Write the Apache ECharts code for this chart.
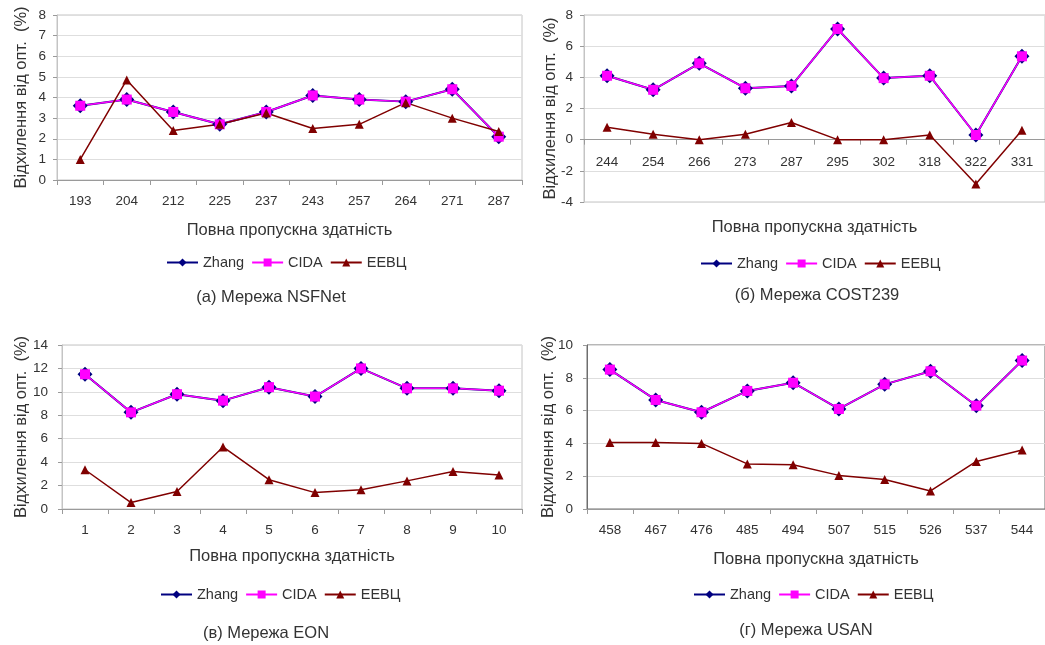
<!DOCTYPE html>
<html>
<head>
<meta charset="utf-8">
<script src="https://cdn.jsdelivr.net/npm/echarts@6/dist/echarts.min.js"></script>
<style>
  html, body { margin: 0; padding: 0; background: #ffffff; }
  #chart { width: 1045px; height: 645px; }
</style>
</head>
<body>
<div id="chart"></div>
<script>
// Total throughput categories of each network
const nsfnetCats  = ['193', '204', '212', '225', '237', '243', '257', '264', '271', '287'];
const cost239Cats = ['244', '254', '266', '273', '287', '295', '302', '318', '322', '331'];
const eonCats     = ['1', '2', '3', '4', '5', '6', '7', '8', '9', '10'];
const usanCats    = ['458', '467', '476', '485', '494', '507', '515', '526', '537', '544'];

// Deviation from the optimum, %
const nsfnetZhang = [3.6, 3.9, 3.3, 2.7, 3.3, 4.1, 3.9, 3.8, 4.4, 2.1];
const nsfnetCida  = [3.6, 3.9, 3.3, 2.7, 3.3, 4.1, 3.9, 3.8, 4.4, 2.1];
const nsfnetEevc  = [1.0, 4.85, 2.4, 2.7, 3.25, 2.5, 2.7, 3.75, 3.0, 2.35];

const cost239Zhang = [4.1, 3.2, 4.9, 3.3, 3.45, 7.1, 3.95, 4.1, 0.3, 5.35];
const cost239Cida  = [4.1, 3.2, 4.9, 3.3, 3.45, 7.1, 3.95, 4.1, 0.3, 5.35];
const cost239Eevc  = [0.8, 0.35, 0.0, 0.35, 1.1, 0.0, 0.0, 0.3, -2.85, 0.6];

const eonZhang = [11.5, 8.25, 9.8, 9.25, 10.4, 9.6, 12.0, 10.3, 10.3, 10.1];
const eonCida  = [11.5, 8.25, 9.8, 9.25, 10.4, 9.6, 12.0, 10.3, 10.3, 10.1];
const eonEevc  = [3.35, 0.55, 1.5, 5.3, 2.5, 1.4, 1.65, 2.4, 3.2, 2.9];

const usanZhang = [8.5, 6.65, 5.9, 7.2, 7.7, 6.1, 7.6, 8.4, 6.3, 9.05];
const usanCida  = [8.5, 6.65, 5.9, 7.2, 7.7, 6.1, 7.6, 8.4, 6.3, 9.05];
const usanEevc  = [4.05, 4.05, 4.0, 2.75, 2.7, 2.05, 1.8, 1.1, 2.9, 3.6];

const seriesNames = ['Zhang', 'CIDA', 'ЕЕВЦ'];
const xTitle = 'Повна пропускна здатність';
const yTitle = 'Відхилення від опт.  (%)';

const FONT = '"Liberation Sans", Arial, sans-serif';
const TEXT = '#333333';
const AXIS_GREY = '#9a9a9a';

// Layout of the four sub-charts
const panels = [
  { cats: nsfnetCats, zhang: nsfnetZhang, cida: nsfnetCida, eevc: nsfnetEevc,
    caption: '(а) Мережа NSFNet',
    grid: { left: 57, top: 15, width: 465, height: 165 },
    y: { min: 0, max: 8, interval: 1 },
    yMargin: 11, yGap: 27, xGap: 42,
    legend: { left: 166, top: 255 }, cap: [271, 297], border: '#c4c4c4' },
  { cats: cost239Cats, zhang: cost239Zhang, cida: cost239Cida, eevc: cost239Eevc,
    caption: '(б) Мережа COST239',
    grid: { left: 584, top: 15, width: 461, height: 187 },
    y: { min: -4, max: 8, interval: 2 },
    yMargin: 11, yGap: 25, xGap: 17, labelsAboveBottom: -47,
    legend: { left: 700, top: 256 }, cap: [817, 295], border: '#c4c4c4' },
  { cats: eonCats, zhang: eonZhang, cida: eonCida, eevc: eonEevc,
    caption: '(в) Мережа EON',
    grid: { left: 62, top: 345, width: 460, height: 164 },
    y: { min: 0, max: 14, interval: 2 },
    yMargin: 14, yGap: 32, xGap: 39,
    legend: { left: 160, top: 587 }, cap: [266, 633], border: '#c4c4c4' },
  { cats: usanCats, zhang: usanZhang, cida: usanCida, eevc: usanEevc,
    caption: '(г) Мережа USAN',
    grid: { left: 587, top: 345, width: 458, height: 164 },
    y: { min: 0, max: 10, interval: 2 },
    yMargin: 14, yGap: 30, xGap: 42,
    legend: { left: 693, top: 587 }, cap: [806, 630], border: '#6e6e6e' }
];

const grid = [], xAxis = [], yAxis = [], series = [], legend = [], graphic = [];

const labelStyle = { fontFamily: FONT, fontSize: 13.5, color: TEXT };
const nameStyle = { fontFamily: FONT, fontSize: 16.5, color: TEXT };

panels.forEach((p, i) => {
  grid.push(Object.assign({
    show: true, borderColor: p.border, borderWidth: 1,
    backgroundColor: '#ffffff', outerBoundsMode: 'none', containLabel: false
  }, p.grid));

  // Axis carrying the data: its line and ticks sit on the zero level
  const dataAxisIndex = xAxis.length;
  const hasSeparateLabels = p.labelsAboveBottom !== undefined;
  xAxis.push({
    type: 'category', gridIndex: i, data: p.cats, boundaryGap: true,
    name: hasSeparateLabels ? '' : xTitle, nameLocation: 'middle', nameGap: p.xGap,
    nameMoveOverlap: false,
    nameTextStyle: nameStyle,
    axisLine: { show: true, onZero: true, lineStyle: { color: AXIS_GREY, width: 1 } },
    axisTick: { show: true, alignWithLabel: false, length: 5, inside: false,
                lineStyle: { color: AXIS_GREY } },
    axisLabel: Object.assign({ show: !hasSeparateLabels, margin: 14, interval: 0 }, labelStyle),
    splitLine: { show: false }
  });
  // When the zero level is inside the plot, labels and title hang from the bottom edge
  if (hasSeparateLabels) {
    xAxis.push({
      type: 'category', gridIndex: i, data: p.cats, boundaryGap: true, position: 'bottom',
      name: xTitle, nameLocation: 'middle', nameGap: p.xGap, nameMoveOverlap: false,
      nameTextStyle: nameStyle,
      axisLine: { show: false, onZero: false },
      axisTick: { show: false },
      axisLabel: Object.assign({ margin: p.labelsAboveBottom, interval: 0 }, labelStyle),
      splitLine: { show: false }
    });
  }

  yAxis.push({
    type: 'value', gridIndex: i, min: p.y.min, max: p.y.max, interval: p.y.interval,
    name: yTitle, nameLocation: 'middle', nameGap: p.yGap, nameRotate: 90,
    nameMoveOverlap: false,
    nameTextStyle: nameStyle,
    axisLine: { show: true, lineStyle: { color: p.border, width: 1 } },
    axisTick: { show: true, length: 4, lineStyle: { color: AXIS_GREY } },
    axisLabel: Object.assign({ margin: p.yMargin }, labelStyle),
    splitLine: { show: true, lineStyle: { color: '#dedede', width: 1 } }
  });

  series.push({
    type: 'line', name: seriesNames[0], xAxisIndex: dataAxisIndex, yAxisIndex: i, data: p.zhang,
    symbol: 'diamond', symbolSize: 15,
    itemStyle: { color: '#000080' },
    lineStyle: { color: '#000080', width: 2 },
    emphasis: { disabled: true }
  });
  series.push({
    type: 'line', name: seriesNames[1], xAxisIndex: dataAxisIndex, yAxisIndex: i, data: p.cida,
    symbol: 'rect', symbolSize: 10,
    itemStyle: { color: '#ff00ff' },
    lineStyle: { color: '#ff00ff', width: 1.5 },
    emphasis: { disabled: true }
  });
  series.push({
    type: 'line', name: seriesNames[2], xAxisIndex: dataAxisIndex, yAxisIndex: i, data: p.eevc,
    symbol: 'triangle', symbolSize: 9,
    itemStyle: { color: '#800000' },
    lineStyle: { color: '#800000', width: 1.5 },
    emphasis: { disabled: true }
  });

  legend.push({
    data: seriesNames, left: p.legend.left, top: p.legend.top,
    orient: 'horizontal', padding: 0, itemGap: 7, itemWidth: 31, itemHeight: 10,
    selectedMode: false,
    textStyle: { fontFamily: FONT, fontSize: 14.5, color: TEXT }
  });

  graphic.push({
    type: 'text', x: p.cap[0], y: p.cap[1], silent: true,
    style: { text: p.caption, align: 'center', verticalAlign: 'middle',
             font: '16.5px ' + FONT, fill: TEXT }
  });
});

const chart = echarts.init(document.getElementById('chart'), null, { renderer: 'canvas' });
chart.setOption({
  animation: false,
  backgroundColor: '#ffffff',
  grid, xAxis, yAxis, series, legend, graphic
});
</script>
</body>
</html>
